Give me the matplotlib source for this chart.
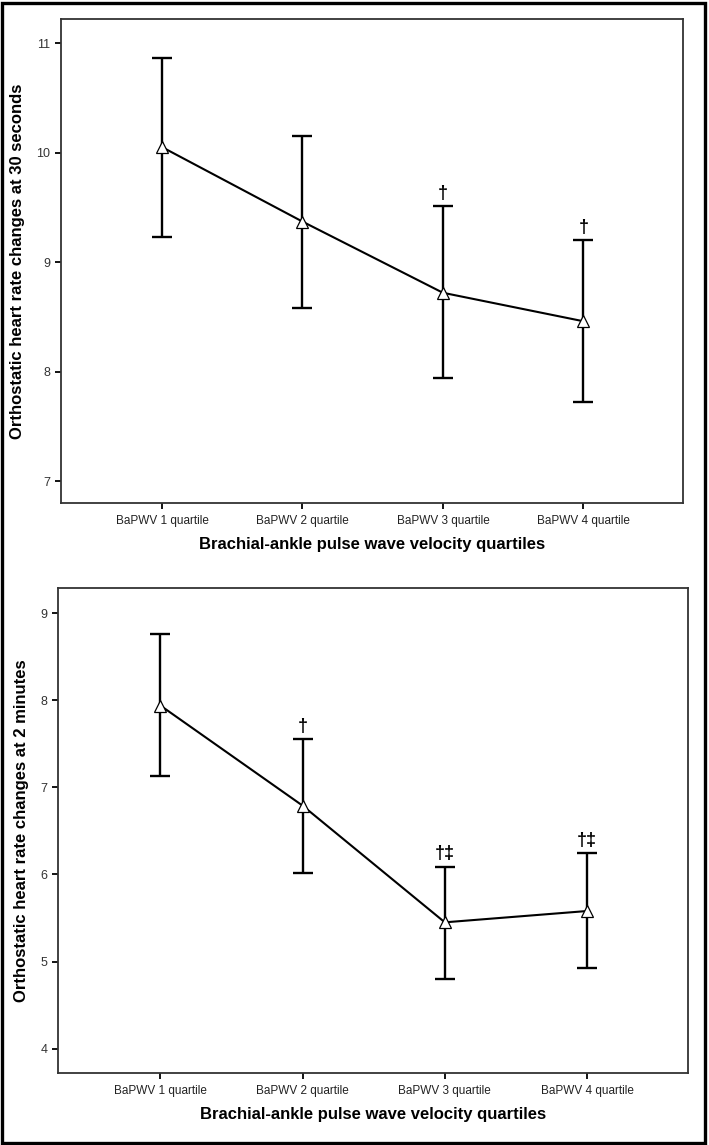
#!/usr/bin/env python3

"""Orthostatic heart rate changes by brachial-ankle PWV quartile (two panels)."""

import matplotlib
matplotlib.use('Agg')
import matplotlib.pyplot as plt
from matplotlib.patches import Rectangle

plt.rcParams['font.family'] = ['Liberation Sans', 'DejaVu Sans']

categories = ['BaPWV 1 quartile', 'BaPWV 2 quartile',
              'BaPWV 3 quartile', 'BaPWV 4 quartile']

# top panel: change at 30 seconds
mean_30s = [10.05, 9.37, 8.72, 8.46]
lower_30s = [9.23, 8.58, 7.94, 7.72]
upper_30s = [10.86, 10.15, 9.51, 9.20]
marks_30s = ['', '', '\u2020', '\u2020']

# bottom panel: change at 2 minutes
mean_2m = [7.94, 6.79, 5.45, 5.58]
lower_2m = [7.13, 6.02, 4.80, 4.93]
upper_2m = [8.76, 7.55, 6.09, 6.25]
marks_2m = ['', '\u2020', '\u2020\u2021', '\u2020\u2021']

xlabel = 'Brachial-ankle pulse wave velocity quartiles'


def draw_panel(ax, means, lows, highs, marks, ylabel, ylim, yticks):
    x = list(range(1, len(categories) + 1))
    err = [[m - lo for m, lo in zip(means, lows)],
           [hi - m for m, hi in zip(means, highs)]]
    ax.errorbar(x, means, yerr=err, fmt='none', ecolor='black',
                elinewidth=1.7, capsize=7, capthick=1.7, zorder=2)
    ax.plot(x, means, color='black', lw=1.5, zorder=3)
    ax.plot(x, means, ls='none', marker='^', ms=9, mfc='white',
            mec='black', mew=0.9, zorder=4)
    for xi, hi, mk in zip(x, highs, marks):
        if mk:
            ax.annotate(mk, (xi, hi), xytext=(0, 3), textcoords='offset points',
                        ha='center', va='bottom', fontsize=13,
                        fontweight='bold')
    ax.set_xlim(0.28, 4.71)
    ax.set_ylim(*ylim)
    ax.set_yticks(yticks)
    ax.set_xticks(x)
    ax.set_xticklabels(categories, fontsize=8.5)
    ax.tick_params(axis='y', labelsize=9, length=4, width=1.3,
                   labelcolor='#333333')
    ax.tick_params(axis='x', length=4, width=1.3, pad=5,
                   labelcolor='#222222')
    for side in ax.spines.values():
        side.set_linewidth(1.3)
        side.set_color('#333333')
    ax.set_xlabel(xlabel, fontsize=12, fontweight='bold', labelpad=7)
    ax.set_ylabel(ylabel, fontsize=12, fontweight='bold', labelpad=8)


fig = plt.figure(figsize=(7.09, 11.45), dpi=100)

ax1 = fig.add_axes([0.0860, 0.5607, 0.8773, 0.4227])
draw_panel(ax1, mean_30s, lower_30s, upper_30s, marks_30s,
           'Orthostatic heart rate changes at 30 seconds',
           (6.8, 11.22), [7, 8, 9, 10, 11])

ax2 = fig.add_axes([0.0818, 0.0629, 0.8886, 0.4236])
draw_panel(ax2, mean_2m, lower_2m, upper_2m, marks_2m,
           'Orthostatic heart rate changes at 2 minutes',
           (3.72, 9.29), [4, 5, 6, 7, 8, 9])

fig.patches.append(Rectangle((0.003, 0.002), 0.991, 0.995,
                             transform=fig.transFigure, fill=False,
                             edgecolor='black', linewidth=2.4))

fig.savefig('out.png', dpi=100)
